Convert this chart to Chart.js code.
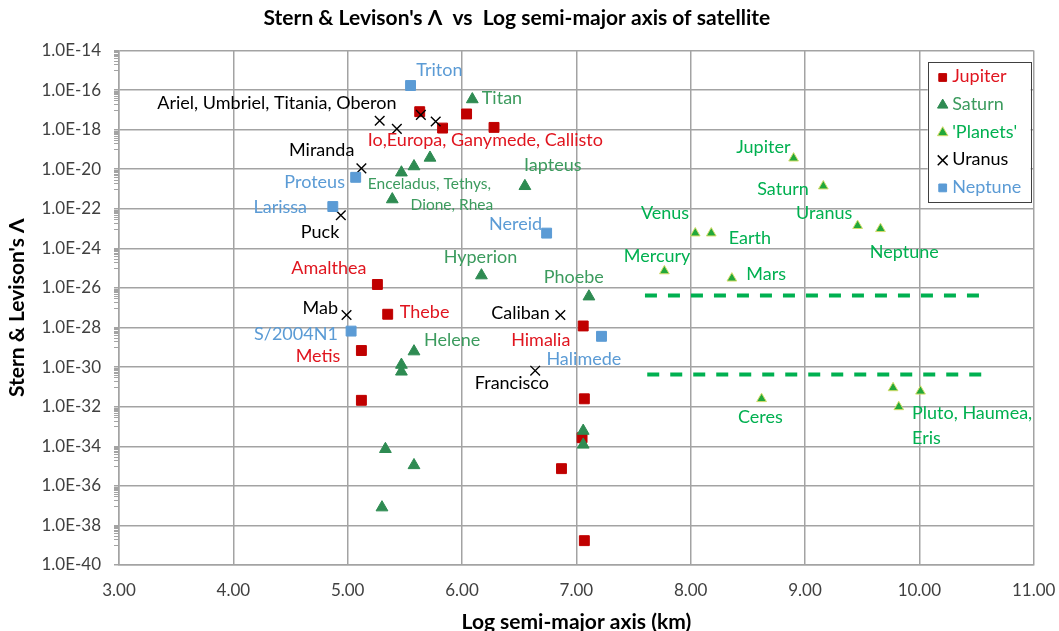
<!DOCTYPE html>
<html>
<head>
<meta charset="utf-8">
<script src="https://cdn.jsdelivr.net/npm/chart.js@4.4.0/dist/chart.umd.min.js"></script>
<style>
  html, body { margin: 0; padding: 0; background: #fff; }
  #wrap { width: 1059px; height: 631px; }
</style>
</head>
<body>
<div id="wrap"><canvas id="chart" width="1059" height="631"></canvas></div>
<script>
// x = log10 of semi-major axis (km), y = Stern & Levison's Lambda
const jupiterX = [5.63, 5.83, 6.04, 6.28, 5.26, 5.35, 5.12, 5.12, 7.06, 7.07, 7.05, 6.87, 7.07];
const jupiterY = [8.1e-18, 1.2e-18, 6.2e-18, 1.3e-18, 1.5e-26, 4.7e-28, 6.9e-30, 2.1e-32, 1.2e-28, 2.5e-32, 2.7e-34, 7.4e-36, 1.7e-39];

const saturnX = [6.09, 5.72, 5.58, 5.47, 5.39, 6.55, 6.17, 7.11, 5.58, 5.47, 5.47, 5.33, 5.58, 5.30, 7.06, 7.06];
const saturnY = [3.4e-17, 3.8e-20, 1.4e-20, 6.8e-21, 3.0e-22, 1.4e-21, 4.3e-26, 3.7e-27, 6.2e-30, 1.3e-30, 5.9e-31, 7.2e-35, 1.1e-35, 8.1e-38, 6.0e-34, 1.2e-34];

const planetX = [8.90, 9.16, 8.04, 8.18, 9.46, 9.66, 7.77, 8.36, 8.62, 9.77, 10.01, 9.82];
const planetY = [3.6e-20, 1.4e-21, 5.9e-24, 5.9e-24, 1.4e-23, 9.8e-24, 7.2e-26, 3.1e-26, 2.5e-32, 8.9e-32, 6.0e-32, 9.8e-33];

const uranusX = [5.28, 5.43, 5.64, 5.77, 5.12, 4.94, 4.99, 6.86, 6.64];
const uranusY = [2.8e-18, 1.1e-18, 5.6e-18, 2.6e-18, 1.1e-20, 4.7e-23, 4.3e-28, 4.3e-28, 6.6e-31];

const neptuneX = [5.55, 5.07, 4.87, 6.74, 5.03, 7.22];
const neptuneY = [1.7e-16, 3.9e-21, 1.3e-22, 5.9e-24, 6.6e-29, 3.6e-29];

// the two dashed limit lines
const upperLineX = [7.60, 10.59];
const upperLineY = [4.2e-27, 4.2e-27];
const lowerLineX = [7.62, 10.60];
const lowerLineY = [4.2e-31, 4.2e-31];

const xTicks = [3, 4, 5, 6, 7, 8, 9, 10, 11];
const yTicks = [1e-40, 1e-38, 1e-36, 1e-34, 1e-32, 1e-30, 1e-28, 1e-26, 1e-24, 1e-22, 1e-20, 1e-18, 1e-16, 1e-14];

const seriesNames = ['Jupiter', 'Saturn', "'Planets'", 'Uranus', 'Neptune'];

const JUP = '#C00000', JUP_T = '#E0151F';
const SAT = '#2E8B52', SAT_T = '#3C9B5E';
const PLA = '#22A83A', PLA_T = '#00B050';
const URA = '#000000', URA_T = '#000000';
const NEP = '#5B9BD5', NEP_T = '#5B9BD5';
const GRID = '#a3a3a3';

// text labels placed in data space (x, log10 of y)
const annotations = [
  { text: 'Triton', x: 5.60, e: -15.02, c: NEP_T },
  { text: 'Ariel, Umbriel, Titania, Oberon', x: 3.335, e: -16.67, c: URA_T },
  { text: 'Io,Europa, Ganymede, Callisto', x: 5.176, e: -18.52, c: JUP_T },
  { text: 'Miranda', x: 4.487, e: -19.03, c: URA_T },
  { text: 'Proteus', x: 4.446, e: -20.63, c: NEP_T },
  { text: 'Enceladus, Tethys,', x: 5.176, e: -20.75, c: SAT_T, s: 15.5 },
  { text: 'Dione, Rhea', x: 5.55, e: -21.82, c: SAT_T, s: 15.5 },
  { text: 'Iapteus', x: 6.543, e: -19.81, c: SAT_T },
  { text: 'Titan', x: 6.173, e: -16.42, c: SAT_T },
  { text: 'Larissa', x: 4.176, e: -21.90, c: NEP_T },
  { text: 'Puck', x: 4.59, e: -23.18, c: URA_T },
  { text: 'Nereid', x: 6.237, e: -22.76, c: NEP_T },
  { text: 'Hyperion', x: 5.84, e: -24.46, c: SAT_T },
  { text: 'Amalthea', x: 4.507, e: -25.01, c: JUP_T },
  { text: 'Mab', x: 4.605, e: -27.02, c: URA_T },
  { text: 'Thebe', x: 5.456, e: -27.23, c: JUP_T },
  { text: 'S/2004N1', x: 4.181, e: -28.36, c: NEP_T },
  { text: 'Helene', x: 5.668, e: -28.64, c: SAT_T },
  { text: 'Metis', x: 4.545, e: -29.45, c: JUP_T },
  { text: 'Caliban', x: 6.255, e: -27.28, c: URA_T },
  { text: 'Himalia', x: 6.43, e: -28.64, c: JUP_T },
  { text: 'Halimede', x: 6.738, e: -29.58, c: NEP_T },
  { text: 'Francisco', x: 6.112, e: -30.80, c: URA_T },
  { text: 'Phoebe', x: 6.714, e: -25.46, c: SAT_T },
  { text: 'Venus', x: 7.565, e: -22.24, c: PLA_T },
  { text: 'Earth', x: 8.333, e: -23.49, c: PLA_T },
  { text: 'Uranus', x: 8.922, e: -22.24, c: PLA_T },
  { text: 'Neptune', x: 9.566, e: -24.17, c: PLA_T },
  { text: 'Mercury', x: 7.415, e: -24.41, c: PLA_T },
  { text: 'Mars', x: 8.487, e: -25.32, c: PLA_T },
  { text: 'Jupiter', x: 8.398, e: -18.91, c: PLA_T },
  { text: 'Saturn', x: 8.582, e: -21.01, c: PLA_T },
  { text: 'Ceres', x: 8.414, e: -32.55, c: PLA_T },
  { text: 'Pluto, Haumea,', x: 9.936, e: -32.31, c: PLA_T },
  { text: 'Eris', x: 9.936, e: -33.57, c: PLA_T }
];

const FONT = "Lato, 'Noto Sans', sans-serif";
Chart.defaults.font.family = FONT;

const toPoints = (xs, ys) => xs.map((x, i) => ({ x: x, y: ys[i] }));

const legendStyle = [
  { pointStyle: 'rect', radius: 5.5, fill: JUP, stroke: JUP, text: JUP_T },
  { pointStyle: 'triangle', radius: 6, fill: SAT, stroke: SAT, text: SAT_T },
  { pointStyle: 'triangle', radius: 6, fill: PLA, stroke: '#d4dc6a', text: PLA_T },
  { pointStyle: 'crossRot', radius: 7, fill: URA, stroke: URA, text: URA_T },
  { pointStyle: 'rect', radius: 5.5, fill: NEP, stroke: NEP, text: NEP_T }
];

const extras = {
  id: 'extras',
  beforeDatasetsDraw(chart) {
    // log minor ticks on the y axis, one decade below each major tick
    const ctx = chart.ctx;
    const y = chart.scales.y;
    const left = chart.chartArea.left;
    ctx.save();
    ctx.strokeStyle = GRID;
    ctx.lineWidth = 1;
    ctx.beginPath();
    yTicks.slice(1).forEach(v => {
      for (let k = 1; k < 10; k++) {
        const py = Math.round(y.getPixelForValue(v * k / 10)) + 0.5;
        ctx.moveTo(left - 5, py);
        ctx.lineTo(left, py);
      }
    });
    ctx.stroke();
    ctx.restore();
  },
  afterDatasetsDraw(chart) {
    const ctx = chart.ctx;
    const xs = chart.scales.x, ys = chart.scales.y;
    ctx.save();
    ctx.textAlign = 'left';
    ctx.textBaseline = 'middle';
    annotations.forEach(a => {
      ctx.font = (a.s || 18) + 'px ' + FONT;
      ctx.fillStyle = a.c;
      ctx.fillText(a.text, xs.getPixelForValue(a.x), ys.getPixelForValue(Math.pow(10, a.e)));
    });
    ctx.restore();
  },
  afterDraw(chart) {
    // legend box inside the plot, top right
    const ctx = chart.ctx;
    const area = chart.chartArea;
    const w = 103, h = 140;
    const bx = area.right - 3 - w, by = area.top + 11;
    ctx.save();
    ctx.fillStyle = '#fff';
    ctx.fillRect(bx, by, w, h);
    ctx.strokeStyle = '#404040';
    ctx.lineWidth = 1;
    ctx.strokeRect(Math.round(bx) + 0.5, Math.round(by) + 0.5, w, h);
    ctx.textAlign = 'left';
    ctx.textBaseline = 'middle';
    ctx.font = '18px ' + FONT;
    seriesNames.forEach((name, i) => {
      const st = legendStyle[i];
      const cy = by + 15 + i * 27.6;
      ctx.fillStyle = st.fill;
      ctx.strokeStyle = st.stroke;
      ctx.lineWidth = st.pointStyle === 'crossRot' ? 1.5 : 1;
      Chart.helpers.drawPoint(ctx, { pointStyle: st.pointStyle, radius: st.radius, rotation: 0, borderWidth: ctx.lineWidth }, bx + 15, cy + 1);
      ctx.fillStyle = st.text;
      ctx.fillText(name, bx + 24.5, cy);
    });
    ctx.restore();
  }
};

new Chart(document.getElementById('chart'), {
  type: 'scatter',
  data: {
    datasets: [
      {
        label: seriesNames[0], data: toPoints(jupiterX, jupiterY), order: 5,
        pointStyle: 'rect', pointRadius: 7, backgroundColor: JUP, borderColor: JUP, borderWidth: 1
      },
      {
        label: seriesNames[1], data: toPoints(saturnX, saturnY), order: 4,
        pointStyle: 'triangle', pointRadius: 6.8, backgroundColor: SAT, borderColor: SAT, borderWidth: 1
      },
      {
        label: seriesNames[2], data: toPoints(planetX, planetY), order: 3,
        pointStyle: 'triangle', pointRadius: 5.6, backgroundColor: PLA, borderColor: '#d4dc6a', borderWidth: 1
      },
      {
        label: seriesNames[3], data: toPoints(uranusX, uranusY), order: 2,
        pointStyle: 'crossRot', pointRadius: 6.8, backgroundColor: URA, borderColor: URA, borderWidth: 1.4
      },
      {
        label: seriesNames[4], data: toPoints(neptuneX, neptuneY), order: 1,
        pointStyle: 'rect', pointRadius: 7, backgroundColor: NEP, borderColor: NEP, borderWidth: 1
      },
      {
        label: 'upper', data: toPoints(upperLineX, upperLineY), order: 6,
        showLine: true, pointRadius: 0, borderColor: PLA_T, borderWidth: 4, borderDash: [12, 11]
      },
      {
        label: 'lower', data: toPoints(lowerLineX, lowerLineY), order: 6,
        showLine: true, pointRadius: 0, borderColor: PLA_T, borderWidth: 4, borderDash: [12, 11]
      }
    ]
  },
  options: {
    responsive: false,
    animation: false,
    devicePixelRatio: 1,
    layout: { padding: { left: 0, right: 25.3, top: 0, bottom: 0 } },
    plugins: {
      legend: { display: false },
      tooltip: { enabled: false },
      title: {
        display: true,
        text: "Stern & Levison's \u039B  vs  Log semi-major axis of satellite",
        color: '#000',
        font: { size: 21, weight: 'bold' },
        padding: { top: 6, bottom: 19.3 }
      }
    },
    scales: {
      x: {
        type: 'linear',
        min: 3, max: 11,
        afterBuildTicks: s => { s.ticks = xTicks.map(v => ({ value: v })); },
        afterFit: s => { s.height = 66; s.paddingLeft = 0; s.paddingRight = 0; },
        ticks: {
          callback: v => Number(v).toFixed(2),
          color: '#404040', font: { size: 17 }, padding: 15, maxRotation: 0, autoSkip: false
        },
        grid: { color: GRID, lineWidth: 1.5, drawTicks: false },
        border: { color: GRID, width: 1.5 },
        title: {
          display: true, text: 'Log semi-major axis (km)', color: '#000',
          font: { size: 21, weight: 'bold' }, padding: { top: 0, bottom: -4 }
        }
      },
      y: {
        type: 'logarithmic',
        min: 1e-40, max: 1e-14,
        afterBuildTicks: s => { s.ticks = yTicks.map(v => ({ value: v })); },
        afterFit: s => { s.width = 119; },
        ticks: {
          callback: v => Number(v).toExponential(1).toUpperCase(),
          color: '#404040', font: { size: 17 }, padding: 13, autoSkip: false
        },
        grid: { color: GRID, lineWidth: 1.5, tickLength: 5 },
        border: { color: GRID, width: 1.5 },
        title: {
          display: true, text: "Stern & Levison's \u039B", color: '#000',
          font: { size: 21, weight: 'bold' }, padding: { top: 5, bottom: 0 }
        }
      }
    }
  },
  plugins: [extras]
});
</script>
</body>
</html>
